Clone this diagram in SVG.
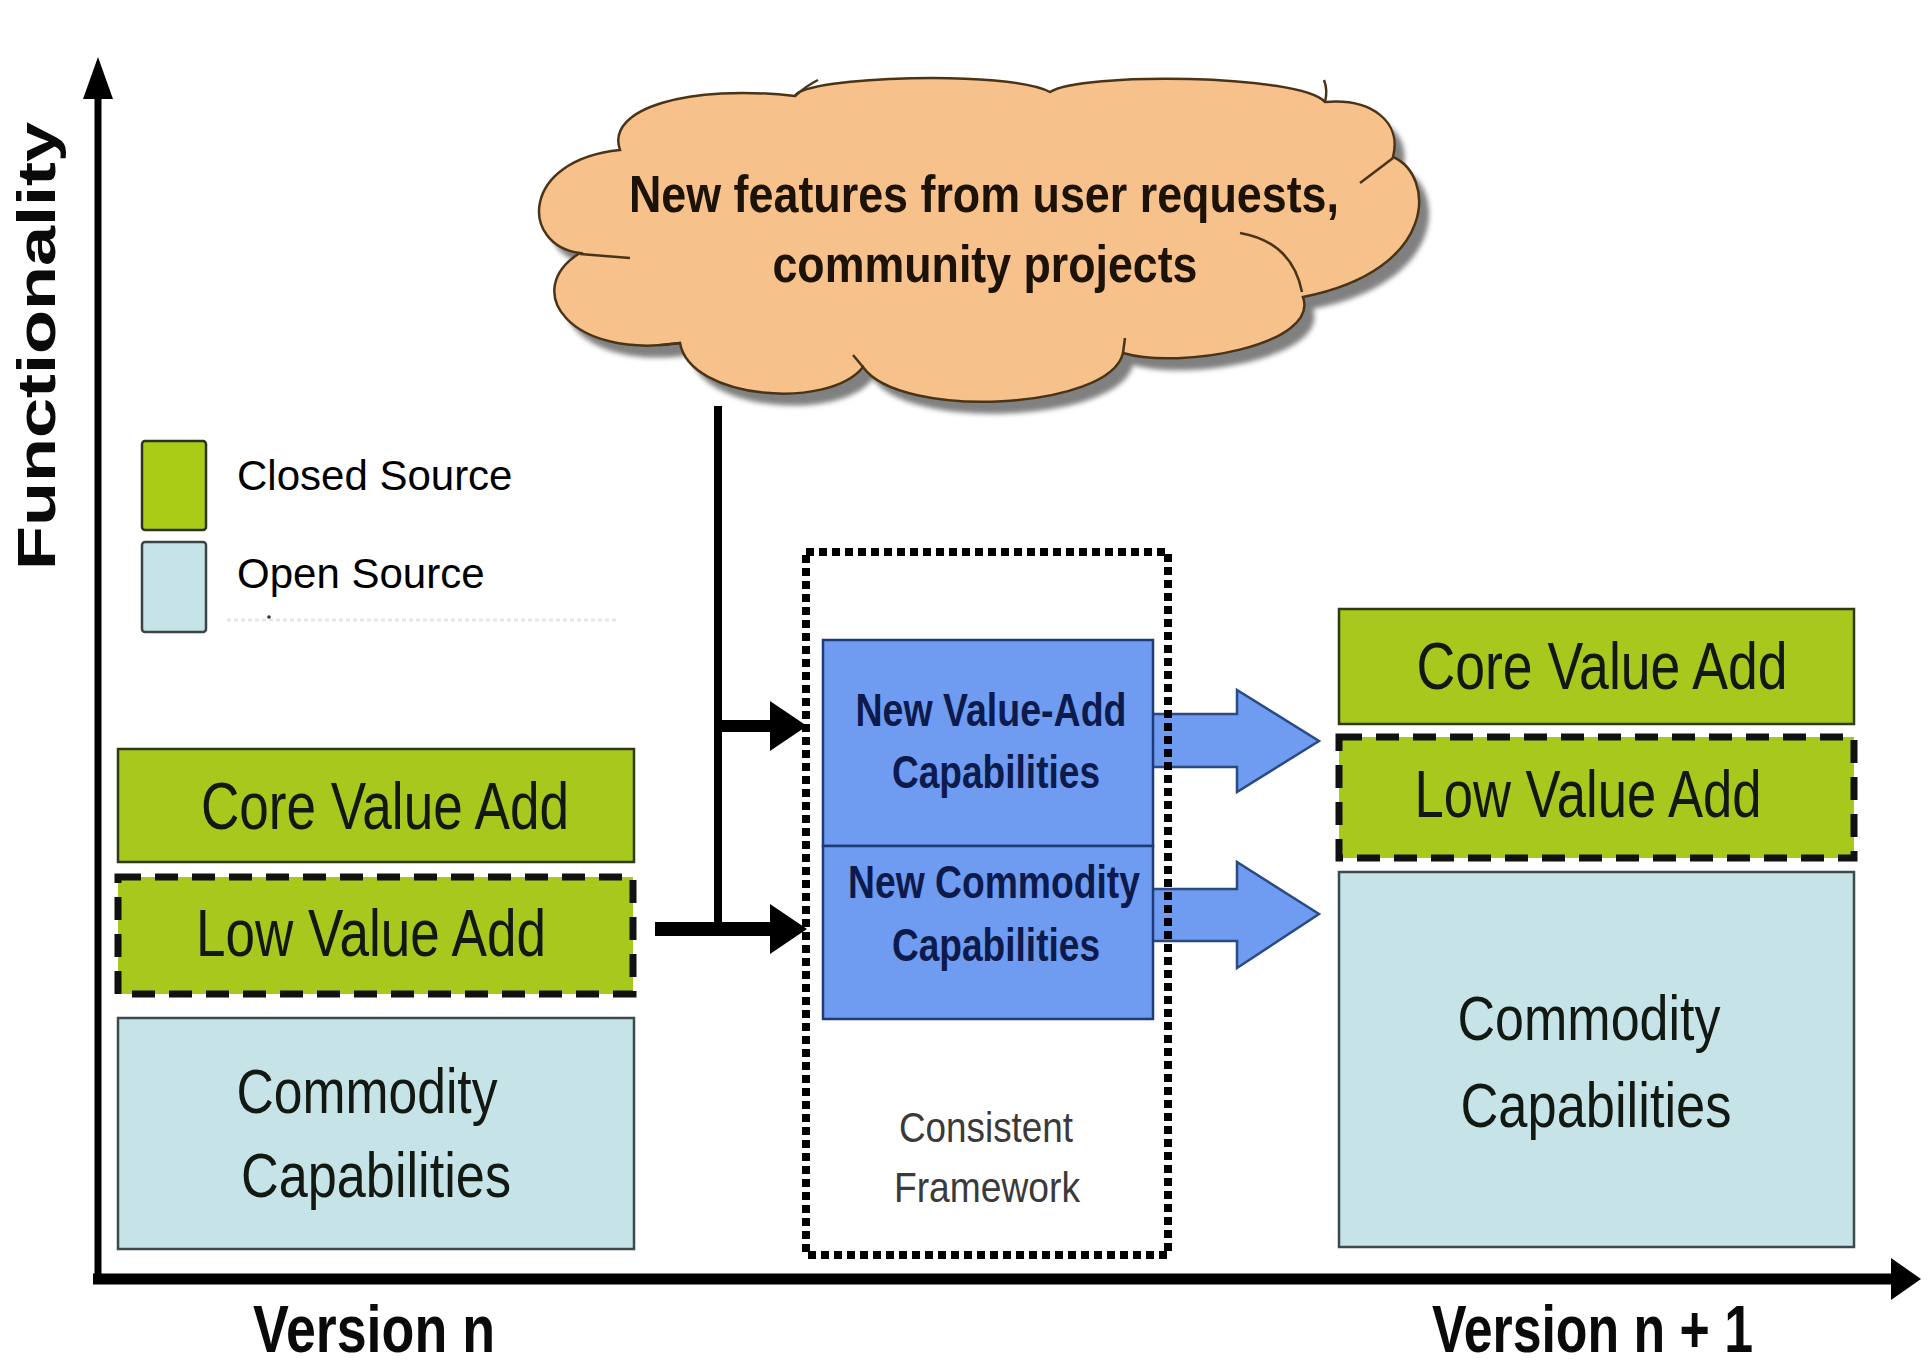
<svg xmlns="http://www.w3.org/2000/svg" width="1929" height="1368" viewBox="0 0 1929 1368">
  <defs>
    <style>
      .green { fill: #a7c81d; stroke: #2f3a12; stroke-width: 2.5; }
      .greenDash { fill: #a7c81d; stroke: #111; stroke-width: 7; stroke-dasharray: 23 14; }
      .lblue { fill: #c6e3e7; stroke: #3c4a4c; stroke-width: 2.5; }
      .blue { fill: #6f9cf0; stroke: #1e3a78; stroke-width: 2.5; }
      .barrow { fill: #6f9cf0; stroke: #2a4a86; stroke-width: 2.5; }
      .box { font-family: "Liberation Sans", Arial, sans-serif; fill: #121812; text-anchor: middle; }
      .mid { font-family: "Liberation Sans", Arial, sans-serif; font-weight: bold; fill: #0d1a4c; text-anchor: middle; font-size: 46px; }
      .frame { font-family: "Liberation Sans", Arial, sans-serif; fill: #3a3a3a; text-anchor: middle; font-size: 43px; }
      .legend { font-family: "Liberation Sans", Arial, sans-serif; fill: #000; font-size: 42px; }
      .axis { font-family: "Liberation Sans", Arial, sans-serif; font-weight: bold; fill: #0a0a0a; }
      .cloudtxt { font-family: "Liberation Sans", Arial, sans-serif; font-weight: bold; fill: #1c1208; text-anchor: middle; font-size: 52px; }
      .blk { stroke: #000; fill: none; }
    </style>
    <filter id="soft" x="-10%" y="-10%" width="120%" height="120%">
      <feGaussianBlur stdDeviation="2.5"/>
    </filter>
    <path id="cloudShape" d="M 620,150 C 605,108 690,84 795,96 C 805,76 1010,70 1050,92 C 1080,72 1300,74 1325,102 C 1372,98 1402,122 1393,157 C 1435,175 1440,270 1303,297 C 1320,345 1180,370 1123,353 C 1110,410 900,420 863,367 C 830,410 690,400 680,343 C 570,360 520,290 580,253 C 520,245 520,160 620,150 Z"/>
  </defs>

  <rect x="0" y="0" width="1929" height="1368" fill="#ffffff"/>

  <!-- Axes -->
  <g id="axes">
    <line x1="98" y1="95" x2="98" y2="1284" stroke="#000" stroke-width="7"/>
    <polygon points="83,99 98,57 113,99" fill="#000"/>
    <line x1="93" y1="1279" x2="1893" y2="1279" stroke="#000" stroke-width="11"/>
    <polygon points="1891,1258 1921,1279 1891,1300" fill="#000"/>
    <text class="axis" font-size="53" transform="translate(55,570) rotate(-90)" textLength="448" lengthAdjust="spacingAndGlyphs">Functionality</text>
    <text class="axis" font-size="66" x="253" y="1352" textLength="242" lengthAdjust="spacingAndGlyphs">Version n</text>
    <text class="axis" font-size="66" x="1432" y="1352" textLength="321" lengthAdjust="spacingAndGlyphs">Version n + 1</text>
  </g>

  <!-- Legend -->
  <g id="legend">
    <rect x="142" y="441" width="64" height="89" rx="3" fill="#a9cc16" stroke="#2c3320" stroke-width="2.5"/>
    <rect x="142" y="542" width="64" height="90" rx="3" fill="#c6e3e7" stroke="#3a4446" stroke-width="2.5"/>
    <text class="legend" x="237" y="490">Closed Source</text>
    <text class="legend" x="237" y="588">Open Source</text>
    <line x1="227" y1="620" x2="619" y2="620" stroke="#e6e6e6" stroke-width="3" stroke-dasharray="4 3"/>
    <circle cx="269" cy="617" r="1.8" fill="#333"/>
  </g>

  <!-- Cloud -->
  <g id="cloud">
    <use href="#cloudShape" fill="#808080" transform="translate(10,12)" filter="url(#soft)"/>
    <use href="#cloudShape" fill="#f6c18b" stroke="#4a3418" stroke-width="2.5"/>
    <g fill="none" stroke="#4a3418" stroke-width="2.5">
      <path d="M 580,254 L 630,258"/>
      <path d="M 1240,233 Q 1292,242 1302,292"/>
      <path d="M 1360,183 Q 1380,168 1393,158"/>
      <path d="M 680,343 L 660,345"/>
      <path d="M 863,367 L 853,355"/>
      <path d="M 1123,353 L 1125,338"/>
      <path d="M 795,96 Q 806,86 818,80"/>
      <path d="M 1325,102 Q 1328,90 1324,80"/>
    </g>
    <text class="cloudtxt" x="984" y="212" textLength="710" lengthAdjust="spacingAndGlyphs">New features from user requests,</text>
    <text class="cloudtxt" x="985" y="282" textLength="425" lengthAdjust="spacingAndGlyphs">community projects</text>
  </g>

  <!-- Left stack: Version n -->
  <g id="left-core">
    <rect class="green" x="118" y="749" width="516" height="113"/>
    <text class="box" x="385" y="829" font-size="66" textLength="368" lengthAdjust="spacingAndGlyphs">Core Value Add</text>
  </g>
  <g id="left-low">
    <rect class="greenDash" x="118" y="877" width="515" height="117"/>
    <text class="box" x="371" y="956" font-size="66" textLength="350" lengthAdjust="spacingAndGlyphs">Low Value Add</text>
  </g>
  <g id="left-commodity">
    <rect class="lblue" x="118" y="1018" width="516" height="231"/>
    <text class="box" x="367" y="1113" font-size="63" textLength="261" lengthAdjust="spacingAndGlyphs">Commodity</text>
    <text class="box" x="376" y="1197" font-size="63" textLength="270" lengthAdjust="spacingAndGlyphs">Capabilities</text>
  </g>

  <!-- Block arrows (under the blue boxes and frame) -->
  <g id="block-arrows">
    <polygon class="barrow" points="1148,714 1237,714 1237,690 1319,741 1237,792 1237,767 1148,767"/>
    <polygon class="barrow" points="1148,889 1237,889 1237,862 1319,914 1237,968 1237,941 1148,941"/>
  </g>

  <!-- Middle -->
  <g id="new-value-add">
    <rect class="blue" x="823" y="640" width="330" height="206"/>
    <text class="mid" x="991" y="726" textLength="271" lengthAdjust="spacingAndGlyphs">New Value-Add</text>
    <text class="mid" x="996" y="788" textLength="208" lengthAdjust="spacingAndGlyphs">Capabilities</text>
  </g>
  <g id="new-commodity">
    <rect class="blue" x="823" y="846" width="330" height="173"/>
    <text class="mid" x="994" y="898" textLength="292" lengthAdjust="spacingAndGlyphs">New Commodity</text>
    <text class="mid" x="996" y="961" textLength="208" lengthAdjust="spacingAndGlyphs">Capabilities</text>
  </g>
  <g id="consistent-framework">
    <rect x="806" y="552" width="362" height="703" fill="none" stroke="#000" stroke-width="8" stroke-dasharray="8 5"/>
    <text class="frame" x="986" y="1142" textLength="174" lengthAdjust="spacingAndGlyphs">Consistent</text>
    <text class="frame" x="987" y="1202" textLength="186" lengthAdjust="spacingAndGlyphs">Framework</text>
  </g>

  <!-- Right stack: Version n+1 -->
  <g id="right-core">
    <rect class="green" x="1339" y="609" width="515" height="115"/>
    <text class="box" x="1602" y="689" font-size="66" textLength="371" lengthAdjust="spacingAndGlyphs">Core Value Add</text>
  </g>
  <g id="right-low">
    <rect class="greenDash" x="1339" y="737" width="515" height="121"/>
    <text class="box" x="1588" y="817" font-size="66" textLength="347" lengthAdjust="spacingAndGlyphs">Low Value Add</text>
  </g>
  <g id="right-commodity">
    <rect class="lblue" x="1339" y="872" width="515" height="375"/>
    <text class="box" x="1589" y="1040" font-size="63" textLength="263" lengthAdjust="spacingAndGlyphs">Commodity</text>
    <text class="box" x="1596" y="1127" font-size="63" textLength="271" lengthAdjust="spacingAndGlyphs">Capabilities</text>
  </g>

  <!-- Connectors -->
  <g id="connectors">
    <line class="blk" x1="718" y1="406" x2="718" y2="935" stroke-width="8"/>
    <line class="blk" x1="718" y1="726" x2="772" y2="726" stroke-width="12"/>
    <polygon points="770,701 807,726 770,751" fill="#000"/>
    <line class="blk" x1="655" y1="929" x2="772" y2="929" stroke-width="14"/>
    <polygon points="770,904 807,929 770,954" fill="#000"/>
  </g>
</svg>
